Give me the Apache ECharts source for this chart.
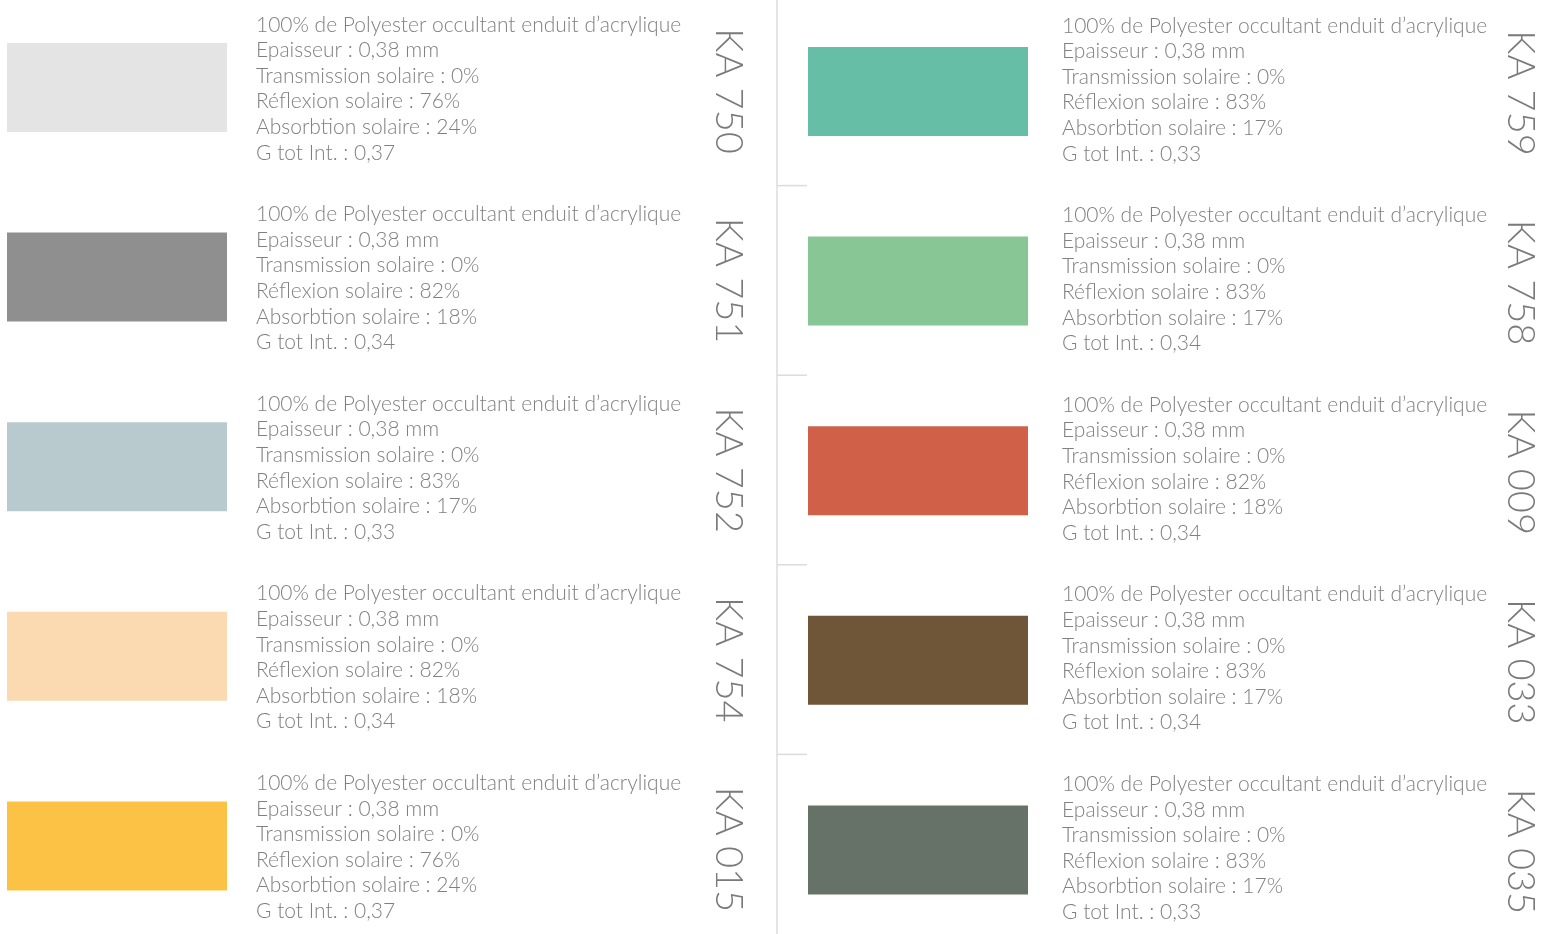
<!DOCTYPE html>
<html><head><meta charset="utf-8">
<script src="https://cdn.jsdelivr.net/npm/echarts@6/dist/echarts.min.js"></script>
<style>html,body{margin:0;padding:0;background:#fff}#c{width:1541px;height:934px}</style>
</head><body><div id="c"></div>
<script>
const codes = ['KA 750','KA 751','KA 752','KA 754','KA 015','KA 759','KA 758','KA 009','KA 033','KA 035'];
const swatchColors = ['#e5e4e5','#8f8f8f','#b9cacf','#fbd9b1','#fbc246','#65bea5','#88c695','#d06148','#6f5639','#667267'];
const material = '100% de Polyester occultant enduit d\u2019acrylique';
const epaisseur = ['0,38','0,38','0,38','0,38','0,38','0,38','0,38','0,38','0,38','0,38'];
const transmission = [0,0,0,0,0,0,0,0,0,0];
const reflexion = [76,82,83,82,76,83,83,82,83,83];
const absorption = [24,18,17,18,24,17,17,18,17,17];
const gTot = ['0,37','0,34','0,33','0,34','0,37','0,33','0,34','0,34','0,34','0,33'];

const data = codes.map((c,i)=>[Math.floor(i/5), i%5, i]);

const chart = echarts.init(document.getElementById('c'));
const FONT = 'Lato';
chart.setOption({
  animation:false,
  grid:{left:0, top:0, right:0, bottom:0},
  xAxis:{type:'value', show:false, min:-0.5, max:-0.5 + 1541/777},
  yAxis:{type:'value', show:false, inverse:true, min:-0.5, max:-0.5 + 934/189.6},
  series:[{
    type:'custom',
    data:data,
    clip:false,
    renderItem:function(params, api){
      const col = api.value(0), row = api.value(1), i = api.value(2);
      const p0 = api.coord([col-0.5, row-0.5]);
      const p1 = api.coord([col+0.5, row+0.5]);
      const x0 = p0[0], y0 = p0[1], h = p1[1]-p0[1];
      const L = col===0 ? {sw:7, swTop:43, tx:256, ty:12, cx:728, cy:91}
                        : {sw:31, swTop:47, tx:285, ty:13, cx:743, cy:93};
      const lines = [
        material,
        'Epaisseur : ' + epaisseur[i] + ' mm',
        'Transmission solaire : ' + transmission[i] + '%',
        'R\u00e9flexion solaire : ' + reflexion[i] + '%',
        'Absorbtion solaire : ' + absorption[i] + '%',
        'G tot Int. : ' + gTot[i]
      ].join('\n');
      const children = [
        {type:'rect', shape:{x:x0+L.sw, y:y0+L.swTop, width:220, height:89}, style:{fill:swatchColors[i]}},
        {type:'text', x:x0+L.tx, y:y0+L.ty, style:{text:lines, fill:'#808080', font:'300 21px '+FONT, lineHeight:25.6, textAlign:'left', textVerticalAlign:'top'}},
        {type:'text', x:x0+L.cx, y:y0+L.cy, rotation:-Math.PI/2, style:{text:codes[i], fill:'#7a7a7a', font:'300 38px '+FONT, textAlign:'center', textVerticalAlign:'middle'}}
      ];
      if(col===1){
        children.push({type:'line', shape:{x1:x0, y1:y0, x2:x0, y2:y0+h}, style:{stroke:'#dcdcdc', lineWidth:1.5}});
        if(row>0){
          children.push({type:'line', shape:{x1:x0, y1:y0-4, x2:x0+30, y2:y0-4}, style:{stroke:'#dcdcdc', lineWidth:1.5}});
        }
      }
      return {type:'group', children:children};
    }
  }]
});
</script></body></html>
